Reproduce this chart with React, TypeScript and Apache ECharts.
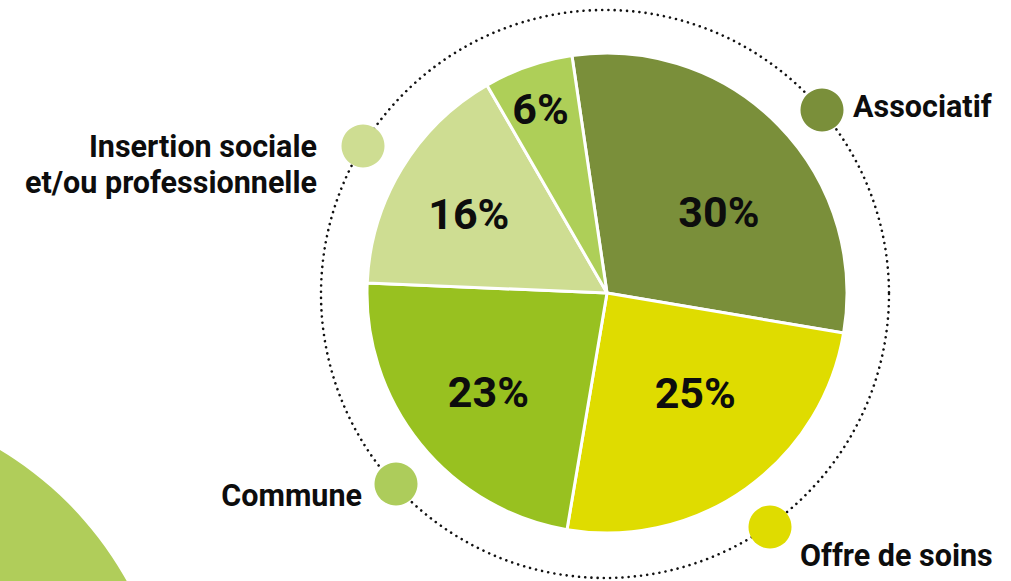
import React, { useEffect, useRef } from "react";
import * as echarts from "echarts";

// ---- data ----
const CATEGORIES = [
  "Associatif",
  "Offre de soins",
  "Commune",
  "Insertion sociale\net/ou professionnelle",
  "Autre",
];
const VALUES = [30, 25, 23, 16, 6];
const SLICE_COLORS = ["#7a8f3a", "#dfdc00", "#98c120", "#cedd92", "#aecf58"];

// ---- layout (not data) ----
const LABEL_SHIFT: [number, number][] = [
  [24, 5],
  [17, 0],
  [-23, 22],
  [-33, -15],
  [-26, -68],
];
// legend markers for the first four categories
const LEGEND_LAYOUT = [
  { cx: 822, cy: 110, color: "#7a8f3a", tx: 853, ty: 106, align: "left" },
  { cx: 770, cy: 527, color: "#dfdc00", tx: 800, ty: 555, align: "left" },
  { cx: 396, cy: 484, color: "#adcc5b", tx: 362, ty: 495, align: "right" },
  { cx: 363, cy: 146, color: "#cedd92", tx: 317, ty: 164, align: "right" },
];

export default function App() {
  const ref = useRef<HTMLDivElement>(null);

  useEffect(() => {
    if (!ref.current) return;
    const chart = echarts.init(ref.current, undefined, { renderer: "svg" });

    const legendGraphics: any[] = [];
    LEGEND_LAYOUT.forEach((l, i) => {
      legendGraphics.push({
        type: "circle",
        z: 20,
        shape: { cx: l.cx, cy: l.cy, r: 21.5 },
        style: { fill: l.color },
      });
      legendGraphics.push({
        type: "text",
        z: 20,
        x: l.tx,
        y: l.ty,
        style: {
          text: CATEGORIES[i],
          font: "bold 30.5px Roboto",
          fill: "#0d0d0d",
          textAlign: l.align,
          textVerticalAlign: "middle",
          lineHeight: 36,
        },
      });
    });

    chart.setOption({
      animation: false,
      backgroundColor: "#ffffff",
      graphic: [
        {
          type: "circle",
          z: -10,
          shape: { cx: -181, cy: 752, r: 352 },
          style: { fill: "#b0cd5a" },
        },
        {
          type: "circle",
          z: 5,
          shape: { cx: 605, cy: 294, r: 284 },
          style: {
            fill: "none",
            stroke: "#111",
            lineWidth: 2.6,
            lineDash: [0.01, 6.2],
            lineCap: "round",
          },
        },
        ...legendGraphics,
      ],
      series: [
        {
          type: "pie",
          center: [607, 293],
          radius: [0, 240],
          startAngle: 98.4,
          clockwise: true,
          z: 10,
          itemStyle: { borderColor: "#ffffff", borderWidth: 3 },
          label: {
            show: true,
            position: "inside",
            formatter: "{c}%",
            fontFamily: "Roboto",
            fontWeight: "bold",
            fontSize: 43,
            color: "#0d0d0d",
          },
          labelLine: { show: false },
          labelLayout: (p: any) => ({
            dx: LABEL_SHIFT[p.dataIndex][0],
            dy: LABEL_SHIFT[p.dataIndex][1],
          }),
          emphasis: { disabled: true },
          data: CATEGORIES.map((name, i) => ({
            name,
            value: VALUES[i],
            itemStyle: { color: SLICE_COLORS[i] },
          })),
        },
      ],
    });

    return () => chart.dispose();
  }, []);

  return (
    <div
      ref={ref}
      style={{ position: "fixed", left: 0, top: 0, width: 1011, height: 581 }}
    />
  );
}
